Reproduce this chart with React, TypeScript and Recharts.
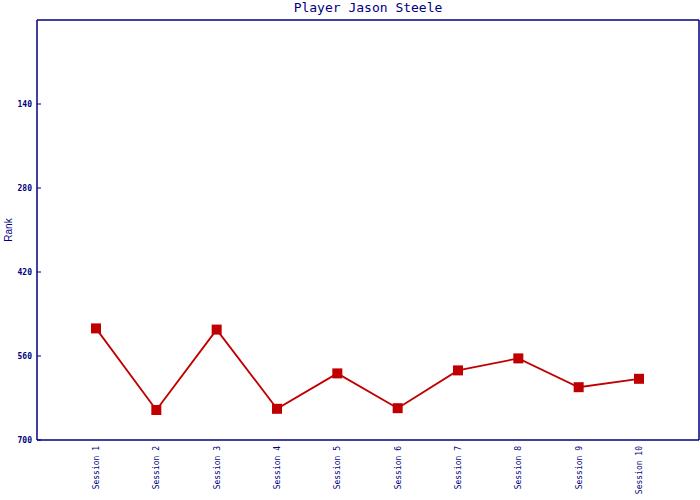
import React from "react";
import { LineChart, Line, XAxis, YAxis } from "recharts";

const sessions = [
  "Session 1",
  "Session 2",
  "Session 3",
  "Session 4",
  "Session 5",
  "Session 6",
  "Session 7",
  "Session 8",
  "Session 9",
  "Session 10",
];
const ranks = [514, 650, 516, 648, 589, 647, 584, 564, 612, 598];
const rankTicks = [140, 280, 420, 560, 700];

const data = sessions.map((s, i) => ({ session: s, rank: ranks[i] }));

const NAVY = "#000080";
const RED = "#c00000";
const MONO = "'DejaVu Sans Mono', 'Liberation Mono', monospace";

function RankTick(props: any) {
  const { x, y, payload } = props;
  return (
    <g>
      <line x1={x} y1={y} x2={x + 4} y2={y} stroke={NAVY} strokeWidth={1} />
      <text
        x={x - 5}
        y={y}
        dy={3}
        textAnchor="end"
        fill={NAVY}
        fontSize={8}
        fontWeight="bold"
        fontFamily={MONO}
      >
        {payload.value}
      </text>
    </g>
  );
}

function SessionTick(props: any) {
  const { x, y, payload } = props;
  return (
    <text
      x={x}
      y={y}
      transform={`rotate(-90, ${x}, ${y})`}
      textAnchor="end"
      dy={3}
      fill={NAVY}
      fontSize={8}
      fontFamily={MONO}
    >
      {payload.value}
    </text>
  );
}

function RankLabel(props: any) {
  const vb = props.viewBox || {};
  const x = (vb.x ?? 0) + 12;
  const y = (vb.y ?? 0) + (vb.height ?? 0) / 2;
  return (
    <text
      x={x}
      y={y}
      transform={`rotate(-90, ${x}, ${y})`}
      textAnchor="middle"
      fill={NAVY}
      fontSize={10}
      fontFamily="'Liberation Sans', Arial, sans-serif"
    >
      Rank
    </text>
  );
}

function SquareDot(props: any) {
  const { cx, cy, index } = props;
  if (cx == null || cy == null) return null;
  return <rect key={`dot-${index}`} x={cx - 5} y={cy - 5} width={10} height={10} fill={RED} />;
}

export default function App() {
  return (
    <div
      style={{
        position: "absolute",
        left: 0,
        top: 0,
        width: 700,
        height: 500,
        background: "#fff",
      }}
    >
      <div
        style={{
          position: "absolute",
          left: 37,
          width: 662,
          top: 0,
          textAlign: "center",
          fontFamily: MONO,
          fontSize: 13,
          lineHeight: "16px",
          color: NAVY,
        }}
      >
        Player Jason Steele
      </div>
      <LineChart
        width={700}
        height={500}
        data={data}
        margin={{ top: 19, right: 0, bottom: 0, left: 0 }}
      >
        <XAxis
          dataKey="session"
          height={60}
          interval={0}
          padding={{ left: 59, right: 60 }}
          axisLine={{ stroke: NAVY, strokeWidth: 1.5 }}
          tickLine={false}
          tickSize={0}
          tickMargin={6}
          tick={<SessionTick />}
        />
        <XAxis
          xAxisId="top"
          orientation="top"
          dataKey="session"
          height={1}
          tick={false}
          tickLine={false}
          axisLine={{ stroke: NAVY, strokeWidth: 1.5 }}
        />
        <YAxis
          width={37}
          domain={[0, 700]}
          reversed
          ticks={rankTicks}
          interval={0}
          axisLine={{ stroke: NAVY, strokeWidth: 1.5 }}
          tickLine={false}
          tickSize={0}
          tickMargin={0}
          tick={<RankTick />}
          label={<RankLabel />}
        />
        <YAxis
          yAxisId="right"
          orientation="right"
          width={1}
          domain={[0, 700]}
          tick={false}
          tickLine={false}
          axisLine={{ stroke: NAVY, strokeWidth: 1.5 }}
        />
        <Line
          dataKey="rank"
          stroke={RED}
          strokeWidth={1.8}
          dot={<SquareDot />}
          activeDot={false}
          isAnimationActive={false}
        />
      </LineChart>
    </div>
  );
}
